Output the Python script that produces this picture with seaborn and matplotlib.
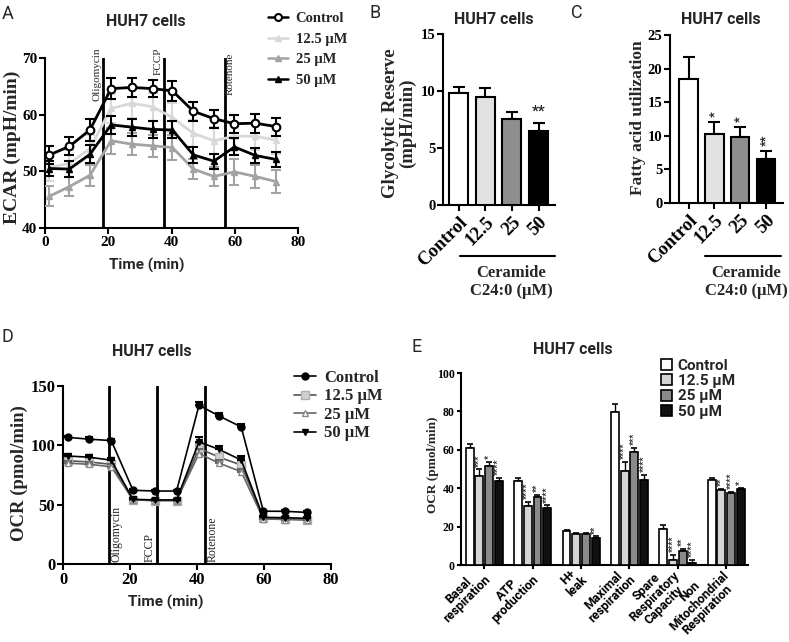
import numpy as np
import pandas as pd
import matplotlib
matplotlib.use("Agg")
import matplotlib.pyplot as plt
from matplotlib.lines import Line2D
from matplotlib.patches import Patch
import seaborn as sns

W, H = 789, 642

# ---------------- data ----------------
dose_labels = ["Control", "12.5 μM", "25 μM", "50 μM"]
bar_ticklabels = ["Control", "12.5", "25", "50"]

# Panel A - ECAR (mpH/min)
ecar_time = [1.4, 7.7, 14.2, 20.9, 27.4, 34.0, 40.3, 46.9, 53.4, 59.9, 66.5, 73.0]
ecar_control = [52.9, 54.4, 57.3, 64.6, 64.8, 64.6, 64.2, 60.6, 59.3, 58.4, 58.5, 57.9]
ecar_12_5 = [50.7, 51.4, 54.0, 61.1, 62.0, 61.4, 59.5, 56.7, 55.4, 56.2, 56.2, 55.5]
ecar_25 = [45.6, 47.3, 49.3, 55.4, 54.8, 54.5, 54.2, 50.4, 49.1, 49.9, 49.1, 48.2]
ecar_50 = [50.5, 50.4, 53.0, 58.2, 57.8, 57.4, 57.3, 52.9, 51.8, 54.3, 52.8, 52.1]
ecar_control_err = [1.6, 1.6, 1.9, 1.8, 1.6, 1.5, 1.8, 1.7, 1.6, 1.6, 1.7, 1.6]
ecar_12_5_err = [2.4, 2.4, 2.5, 2.6, 2.5, 2.5, 2.6, 2.4, 2.4, 2.4, 2.4, 2.4]
ecar_25_err = [1.8, 1.7, 1.9, 2.3, 2.0, 2.0, 2.2, 1.8, 1.7, 2.3, 2.0, 2.0]
ecar_50_err = [1.4, 1.4, 1.6, 1.6, 1.5, 1.5, 1.5, 1.4, 1.3, 1.5, 1.4, 1.3]
ecar_injections = [18.2, 37.5, 56.8]
ecar_injection_names = ["Oligomycin", "FCCP", "Rotenone"]

# Panel B - Glycolytic reserve
glyco_reserve = [9.8, 9.5, 7.55, 6.5]
glyco_reserve_err = [0.55, 0.75, 0.65, 0.65]
glyco_stars = ["", "", "", "**"]

# Panel C - Fatty acid utilization
fatty_acid = [18.5, 10.3, 9.75, 6.6]
fatty_acid_err = [3.2, 1.7, 1.5, 1.1]
fatty_acid_stars = ["", "*", "*", "**"]

# Panel D - OCR (pmol/min)
ocr_time = [1.5, 7.8, 14.4, 20.9, 27.4, 33.9, 40.6, 46.6, 53.2, 59.8, 66.3, 72.7]
ocr_control = [106.7, 105.2, 104.0, 62.1, 61.5, 61.5, 133.8, 124.7, 115.5, 44.5, 44.4, 43.5]
ocr_12_5 = [87.0, 86.0, 84.0, 54.0, 53.5, 53.5, 97.5, 90.0, 83.4, 38.5, 38.0, 37.5]
ocr_25 = [85.0, 84.0, 82.0, 54.0, 53.5, 53.5, 93.0, 85.0, 77.8, 38.0, 37.5, 37.0]
ocr_50 = [91.0, 90.0, 87.5, 54.5, 54.0, 54.0, 103.0, 96.5, 87.6, 39.3, 39.0, 38.5]
ocr_control_err = [1.5, 1.5, 1.5, 1.0, 1.0, 1.0, 3.0, 2.5, 2.5, 1.0, 1.0, 1.0]
ocr_12_5_err = [2.0, 2.0, 2.0, 1.0, 1.0, 1.0, 4.0, 3.0, 3.0, 1.0, 1.0, 1.0]
ocr_25_err = [2.0, 2.0, 2.0, 1.0, 1.0, 1.0, 3.5, 3.0, 2.5, 1.0, 1.0, 1.0]
ocr_50_err = [2.0, 2.0, 2.0, 1.0, 1.0, 1.0, 4.0, 3.0, 3.0, 1.0, 1.0, 1.0]
ocr_injections = [13.6, 28.2, 42.5]

# Panel E - mito stress parameters
resp_categories = ["Basal\nrespiration", "ATP\nproduction", "H+\nleak",
                   "Maximal\nrespiration", "Spare\nRespiratory\nCapacity",
                   "Non\nMitochondrial\nRespiration"]
resp_control = [61.1, 44.0, 17.5, 79.9, 18.8, 44.2]
resp_12_5 = [46.3, 30.6, 16.0, 48.9, 2.8, 39.0]
resp_25 = [51.5, 35.3, 16.3, 58.8, 7.1, 37.6]
resp_50 = [43.7, 29.8, 14.1, 44.5, 1.2, 39.7]
resp_control_err = [2.0, 1.1, 0.8, 3.8, 2.2, 1.2]
resp_12_5_err = [3.5, 2.1, 0.5, 4.9, 2.5, 0.8]
resp_25_err = [2.1, 1.4, 0.5, 2.3, 1.4, 0.5]
resp_50_err = [1.7, 1.2, 0.8, 2.3, 1.6, 0.5]
resp_stars_12_5 = ["***", "****", "", "****", "****", "**"]
resp_stars_25 = ["*", "**", "", "***", "**", "****"]
resp_stars_50 = ["****", "****", "**", "****", "****", "*"]

# ---------------- style ----------------
SERIF = ["Liberation Serif", "DejaVu Serif"]
SANS = ["Roboto", "DejaVu Sans"]
sns.set_theme(style="ticks")
plt.rcParams.update({
    "font.family": SERIF,
    "font.weight": "bold",
    "axes.linewidth": 1.5,
    "axes.edgecolor": "black",
    "xtick.major.width": 1.5, "ytick.major.width": 1.5,
    "xtick.major.size": 4, "ytick.major.size": 4,
    "xtick.color": "black", "ytick.color": "black",
    "xtick.major.pad": 2, "ytick.major.pad": 1.5,
})

fig = plt.figure(figsize=(W / 100, H / 100), dpi=100)


def box(l, t, r, b):
    return [l / W, 1 - b / H, (r - l) / W, (b - t) / H]


def fp(x, y):
    return x / W, 1 - y / H


def ftext(x, y, s, **kw):
    fig.text(*fp(x, y), s, **kw)


def panel_letter(x, y, s):
    ftext(x, y, s, fontsize=13, family=SANS, weight="normal", ha="center", va="center")


def title(x, y):
    ftext(x, y, "HUH7 cells", fontsize=11.5, family=SANS, weight="bold", ha="center", va="center")


def clean(ax):
    sns.despine(ax=ax)
    for lbl in ax.get_xticklabels() + ax.get_yticklabels():
        lbl.set_fontweight("bold")


# ================= Panel A =================
axA = fig.add_axes(box(45, 58, 298, 228))
dfA = pd.DataFrame({
    "time": ecar_time * 4,
    "value": ecar_control + ecar_12_5 + ecar_25 + ecar_50,
    "err": ecar_control_err + ecar_12_5_err + ecar_25_err + ecar_50_err,
    "group": np.repeat(dose_labels, len(ecar_time)),
})
styleA = {
    "Control": dict(color="black", marker="o", mfc="white", mec="black", ms=5.5, mew=1.5, z=6),
    "12.5 μM": dict(color="#d8d8d8", marker="^", mfc="#d8d8d8", mec="#d8d8d8", ms=4.5, mew=1, z=3),
    "25 μM": dict(color="#a3a3a3", marker="^", mfc="#a3a3a3", mec="#a3a3a3", ms=4.5, mew=1, z=4),
    "50 μM": dict(color="black", marker="^", mfc="black", mec="black", ms=4.5, mew=1, z=5),
}
for g in ["12.5 μM", "25 μM", "50 μM", "Control"]:
    st = styleA[g]
    sub = dfA[dfA.group == g]
    sns.lineplot(data=sub, x="time", y="value", ax=axA, color=st["color"], marker=st["marker"],
                 markersize=st["ms"], markerfacecolor=st["mfc"], markeredgecolor=st["mec"],
                 markeredgewidth=st["mew"], linewidth=2, legend=False, zorder=st["z"])
    axA.errorbar(sub["time"], sub["value"], yerr=sub["err"], fmt="none", ecolor=st["color"],
                 elinewidth=1.5, capsize=3.5, capthick=1.5, zorder=st["z"] - 0.5)
for xv, name in zip(ecar_injections, ecar_injection_names):
    axA.axvline(xv, color="black", lw=2, zorder=2)
ha_map = {"Oligomycin": "right", "FCCP": "right", "Rotenone": "left"}
off = {"Oligomycin": -0.4, "FCCP": -0.4, "Rotenone": 0.4}
for xv, name in zip(ecar_injections, ecar_injection_names):
    axA.text(xv + off[name], 71.9 if name != "Rotenone" else 71.0, name, rotation=90, ha=ha_map[name],
             va="top", fontsize=8, weight="normal", clip_on=False)
axA.set_xlim(0, 80)
axA.set_ylim(40, 70)
axA.set_xticks([0, 20, 40, 60, 80])
axA.set_yticks([40, 50, 60, 70])
axA.set_xlabel("")
axA.set_ylabel("")
axA.tick_params(labelsize=11)
clean(axA)
ftext(12, 147, "ECAR (mpH/min)", rotation=90, fontsize=14, ha="center", va="center")
ftext(147, 265, "Time (min)", fontsize=11, family=SANS, ha="center", va="center")
handlesA = [Line2D([], [], color=styleA[g]["color"], marker=styleA[g]["marker"],
                   markerfacecolor=styleA[g]["mfc"], markeredgecolor=styleA[g]["mec"],
                   markersize=styleA[g]["ms"] - 0.5, markeredgewidth=styleA[g]["mew"], lw=1.8)
            for g in dose_labels]
fig.legend(handlesA, dose_labels, loc="upper left", bbox_to_anchor=fp(268, 12), frameon=False,
           prop=dict(family=SERIF, weight="bold", size=10.5), handlelength=1.4, handletextpad=0.5,
           labelspacing=0.5, borderaxespad=0, borderpad=0)
panel_letter(8, 14, "A")
title(146, 21)

# ================= Panel B & C =================
bar_colors = ["white", "#e2e2e2", "#8e8e8e", "black"]


def bar_panel(rect, values, errs, stars, ylim, yticks, xlim, star_rot, star_size):
    ax = fig.add_axes(rect)
    df = pd.DataFrame({"dose": bar_ticklabels, "value": values})
    sns.barplot(data=df, x="dose", y="value", hue="dose", palette=bar_colors, edgecolor="black",
                linewidth=1.5, width=0.71, legend=False, ax=ax, zorder=3)
    xs = np.arange(len(values))
    ax.errorbar(xs, values, yerr=[np.zeros(len(errs)), errs], fmt="none", ecolor="black",
                elinewidth=1.5, capsize=4, capthick=1.5, zorder=2)
    for x, v, e, s in zip(xs, values, errs, stars):
        if s:
            ax.text(x, v + e + ylim[1] * 0.03, s, rotation=star_rot, ha="center", va="bottom",
                    fontsize=star_size, family=SANS)
    ax.set_ylim(*ylim)
    ax.set_yticks(yticks)
    ax.set_xlim(*xlim)
    ax.set_xlabel("")
    ax.set_ylabel("")
    ax.tick_params(axis="y", labelsize=10.5)
    ax.tick_params(axis="x", labelsize=13.5)
    plt.setp(ax.get_xticklabels(), rotation=45, ha="right", rotation_mode="anchor")
    clean(ax)
    return ax


axB = bar_panel(box(443, 34, 555, 205), glyco_reserve, glyco_reserve_err, glyco_stars,
                (0, 15), [0, 5, 10, 15], (-0.58, 3.61), 0, 11)
axC = bar_panel(box(670, 35, 783, 203), fatty_acid, fatty_acid_err, fatty_acid_stars,
                (0, 25), [0, 5, 10, 15, 20, 25], (-0.72, 3.66), 90, 9)

ftext(399, 123, "Glycolytic Reserve\n(mpH/min)", rotation=90, fontsize=13.5, ha="center",
      va="center", linespacing=1.0)
ftext(638, 118, "Fatty acid utilization", rotation=90, fontsize=12.5, ha="center", va="center")
for (x0, x1, xc) in [(460, 555, 511), (705, 781, 746)]:
    fig.add_artist(Line2D([x0 / W, x1 / W], [1 - 256 / H, 1 - 256 / H], color="black", lw=1.5))
    ftext(xc, 273, "Ceramide", fontsize=12, ha="center", va="center")
    ftext(xc, 291, "C24:0 (μM)", fontsize=12, ha="center", va="center")
panel_letter(375, 13, "B")
title(494, 20)
panel_letter(577, 13, "C")
title(721, 20)

# ================= Panel D =================
axD = fig.add_axes(box(63, 386, 331, 564))
dfD = pd.DataFrame({
    "time": ocr_time * 4,
    "value": ocr_control + ocr_12_5 + ocr_25 + ocr_50,
    "err": ocr_control_err + ocr_12_5_err + ocr_25_err + ocr_50_err,
    "group": np.repeat(dose_labels, len(ocr_time)),
})
styleD = {
    "Control": dict(lc="black", marker="o", mfc="black", mec="black", ms=5, z=6),
    "12.5 μM": dict(lc="#555555", marker="s", mfc="#d0d0d0", mec="#b0b0b0", ms=5.5, z=3),
    "25 μM": dict(lc="#666666", marker="^", mfc="white", mec="#8a8a8a", ms=5, z=4),
    "50 μM": dict(lc="black", marker="v", mfc="black", mec="black", ms=4.5, z=5),
}
for g in ["12.5 μM", "25 μM", "50 μM", "Control"]:
    st = styleD[g]
    sub = dfD[dfD.group == g]
    sns.lineplot(data=sub, x="time", y="value", ax=axD, color=st["lc"], marker=st["marker"],
                 markersize=st["ms"], markerfacecolor=st["mfc"], markeredgecolor=st["mec"],
                 markeredgewidth=1, linewidth=1.2, legend=False, zorder=st["z"])
    axD.errorbar(sub["time"], sub["value"], yerr=[np.zeros(len(sub)), sub["err"]], fmt="none",
                 ecolor=st["lc"], elinewidth=1.2, capsize=3, capthick=1.5, zorder=st["z"] - 0.5)
for xv in ocr_injections:
    axD.axvline(xv, color="black", lw=2, zorder=2)
axD.text(ocr_injections[0] + 0.5, 1.5, "Oligomycin", rotation=90, ha="left", va="bottom",
         fontsize=8.5, weight="normal")
axD.text(ocr_injections[1] - 0.5, 1.5, "FCCP", rotation=90, ha="right", va="bottom",
         fontsize=8.5, weight="normal")
axD.text(ocr_injections[2] + 0.5, 1.5, "Rotenone", rotation=90, ha="left", va="bottom",
         fontsize=8.5, weight="normal")
axD.set_xlim(0, 80)
axD.set_ylim(0, 150)
axD.set_xticks([0, 20, 40, 60, 80])
axD.set_yticks([0, 50, 100, 150])
axD.set_xlabel("")
axD.set_ylabel("")
axD.tick_params(labelsize=12)
clean(axD)
ftext(19, 473, "OCR (pmol/min)", rotation=90, fontsize=13.5, ha="center", va="center")
ftext(166, 602, "Time (min)", fontsize=11, family=SANS, ha="center", va="center")
handlesD = [Line2D([], [], color=styleD[g]["lc"], marker=styleD[g]["marker"],
                   markerfacecolor=styleD[g]["mfc"], markeredgecolor=styleD[g]["mec"],
                   markersize=styleD[g]["ms"], lw=1.2) for g in dose_labels]
fig.legend(handlesD, dose_labels, loc="upper left", bbox_to_anchor=fp(294, 370), frameon=False,
           prop=dict(family=SERIF, weight="bold", size=12), handlelength=1.3, handletextpad=0.5,
           labelspacing=0.15, borderaxespad=0, borderpad=0)
panel_letter(7, 337, "D")
title(152, 351)

# ================= Panel E =================
axE = fig.add_axes(box(461, 373, 748, 565))
resp_values = [resp_control, resp_12_5, resp_25, resp_50]
resp_errs = [resp_control_err, resp_12_5_err, resp_25_err, resp_50_err]
resp_stars = [[""] * 6, resp_stars_12_5, resp_stars_25, resp_stars_50]
dfE = pd.DataFrame({
    "category": resp_categories * 4,
    "value": sum(resp_values, []),
    "dose": np.repeat(dose_labels, len(resp_categories)),
})
colorsE = ["white", "#d4d4d4", "#8a8a8a", "#111111"]
sns.barplot(data=dfE, x="category", y="value", hue="dose", palette=colorsE, edgecolor="black",
            linewidth=1.2, width=0.8, gap=0.18, legend=False, ax=axE, zorder=3)
for j in range(4):
    xs = np.arange(len(resp_categories)) + (j - 1.5) * 0.2
    axE.errorbar(xs, resp_values[j], yerr=[np.zeros(6), resp_errs[j]], fmt="none", ecolor="black",
                 elinewidth=1.0, capsize=2.5, capthick=1.2, zorder=2)
    for x, v, e, s in zip(xs, resp_values[j], resp_errs[j], resp_stars[j]):
        if s:
            axE.text(x, v + e + 1.5, s, rotation=90, ha="center", va="bottom", fontsize=6.5,
                     family=SANS)
axE.set_ylim(0, 100)
axE.set_yticks([0, 20, 40, 60, 80, 100])
axE.set_xlim(-0.48, 5.45)
axE.set_xlabel("")
axE.set_ylabel("")
axE.tick_params(axis="y", labelsize=8.5, length=3)
axE.tick_params(axis="x", labelsize=9, length=3, pad=3)
clean(axE)
for lbl in axE.get_xticklabels():
    lbl.set_rotation(45)
    lbl.set_ha("right")
    lbl.set_va("center")
    lbl.set_rotation_mode("anchor")
    lbl.set_multialignment("center")
    lbl.set_family(SANS)
    lbl.set_linespacing(0.95)
ftext(433, 465, "OCR (pmol/min)", rotation=90, fontsize=9.5, ha="center", va="center")
handlesE = [Patch(facecolor=c, edgecolor="black", linewidth=1.2) for c in colorsE]
fig.legend(handlesE, dose_labels, loc="upper left", bbox_to_anchor=fp(661, 359), frameon=False,
           prop=dict(family=SANS, weight="bold", size=11), handlelength=0.75, handleheight=0.75,
           handletextpad=0.35, labelspacing=0.08, borderaxespad=0, borderpad=0)
panel_letter(417, 347, "E")
title(573, 350)

fig.savefig("out.png", dpi=100, facecolor="white")
